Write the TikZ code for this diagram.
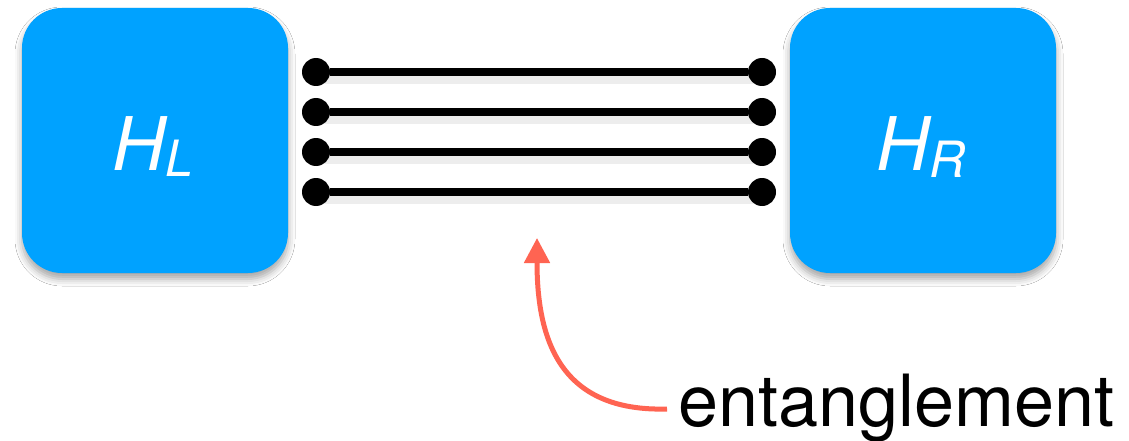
\documentclass[tikz,border=0pt]{standalone}
\usepackage{fontspec}
\setmainfont{TeX Gyre Heros}
\usetikzlibrary{arrows.meta,shadows.blur}
\definecolor{hblue}{RGB}{0,162,255}
\definecolor{arrowred}{RGB}{255,100,82}
\begin{document}
\begin{tikzpicture}[x=1pt,y=-1pt,
  hbox/.style={fill=hblue, rounded corners=40pt, minimum width=266pt, minimum height=265pt, inner sep=0pt,
    blur shadow={shadow xshift=0pt, shadow yshift=-6pt, shadow blur radius=7pt, shadow opacity=35}},
  hlab/.style={text=white, inner sep=0pt, font=\fontsize{74}{80}\selectfont\itshape},
  dotnode/.style={circle, fill=black, inner sep=0pt, minimum size=28pt},
  wire/.style={line width=8pt, black},
  wireshadow/.style={line width=12pt, black, opacity=0.07},
  arrowline/.style={arrowred, line width=5pt, -{Triangle[length=25pt,width=25pt]}},
  entlab/.style={inner sep=0pt, anchor=base west, font=\fontsize{72}{80}\selectfont}]
\useasboundingbox (0,0) rectangle (1129,441);
\fill[white] (0,0) rectangle (1129,441);
\node[hbox] (HL) at (155,140.5) {};
\node[hbox] (HR) at (923,140.5) {};
\node[hlab, anchor=base] (HLt) at (153,170) {H\raisebox{-6pt}{\fontsize{50}{50}\selectfont L}};
\node[hlab, anchor=base] (HRt) at (921,170) {H\raisebox{-7pt}{\fontsize{50}{50}\selectfont R}};
\foreach \i/\y in {1/72,2/112,3/152,4/192} {
  \draw[wireshadow] (316,\y+6) -- (762,\y+6);
}
\foreach \i/\y in {1/72,2/112,3/152,4/192} {
  \node[dotnode] (l\i) at (316,\y) {};
  \node[dotnode] (r\i) at (762,\y) {};
  \draw[wire] (l\i) -- (r\i);
}
\node[entlab] (ent) at (678,426) {entanglement};
\coordinate (astart) at (667,409);
\coordinate (atip) at (537,238);
\draw[arrowline] (astart) .. controls (560,412) and (537,340) .. (atip);
\end{tikzpicture}
\end{document}
